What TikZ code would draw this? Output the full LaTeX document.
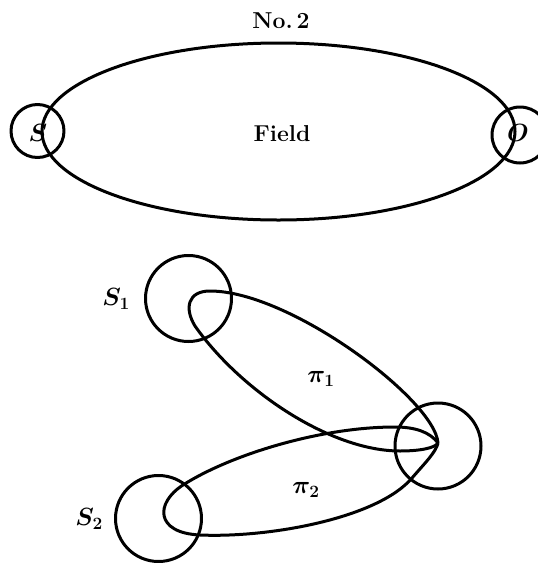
\documentclass[tikz,border=0pt]{standalone}
\usetikzlibrary{shapes.geometric}
\begin{document}
\begin{tikzpicture}[x=1pt,y=-1pt,
  every node/.style={font=\fontsize{24}{28}\selectfont\boldmath, inner sep=0pt},
  ln/.style={line width=3pt, line join=round},
  smallc/.style={ln, draw, circle},
  bigc/.style={ln, draw, circle, minimum size=86pt},
  lbl/.style={font=\fontsize{23}{27}\selectfont\bfseries}]
\useasboundingbox (0,0) rectangle (538,563);
% top figure
\node[lbl] (title) at (281,21) {No.\,2};
\node[ln, draw, ellipse, minimum width=473pt, minimum height=177pt] (field) at (278.5,131.5) {};
\node[lbl] (fieldlbl) at (282,134) {Field};
\node[smallc, minimum size=53pt] (s) at (37.5,131) {};
\node[smallc, minimum size=56pt] (o) at (520,135) {};
\node (slbl) at (38,133) {$S$};
\node (olbl) at (518,133) {$O$};
% bottom figure
\node[bigc] (s1) at (188.5,298.5) {};
\node[bigc] (s2) at (158.5,518.5) {};
\node[bigc] (r) at (438,446) {};
\node (s1lbl) at (116,299) {$S_1$};
\node (s2lbl) at (89,519) {$S_2$};
\node (p1) at (321,379) {$\pi_1$};
\node (p2) at (306,490) {$\pi_2$};
\coordinate (tip) at (438,443);
% loop pi1
\draw[ln] (tip) .. controls (435,400) and (290,291) .. (210,291)
  .. controls (188,291) and (184,308) .. (195,326)
  .. controls (240,390) and (330,451) .. (400,451)
  .. controls (420,451) and (435,448) .. (tip);
% loop pi2
\draw[ln] (tip) .. controls (430,432) and (415,427) .. (395,427)
  .. controls (320,427) and (230,455) .. (183,485)
  .. controls (155,503) and (155,533) .. (200,535)
  .. controls (270,538) and (378,518) .. (412,478)
  .. controls (425,463) and (436,452) .. (tip);
\end{tikzpicture}
\end{document}
